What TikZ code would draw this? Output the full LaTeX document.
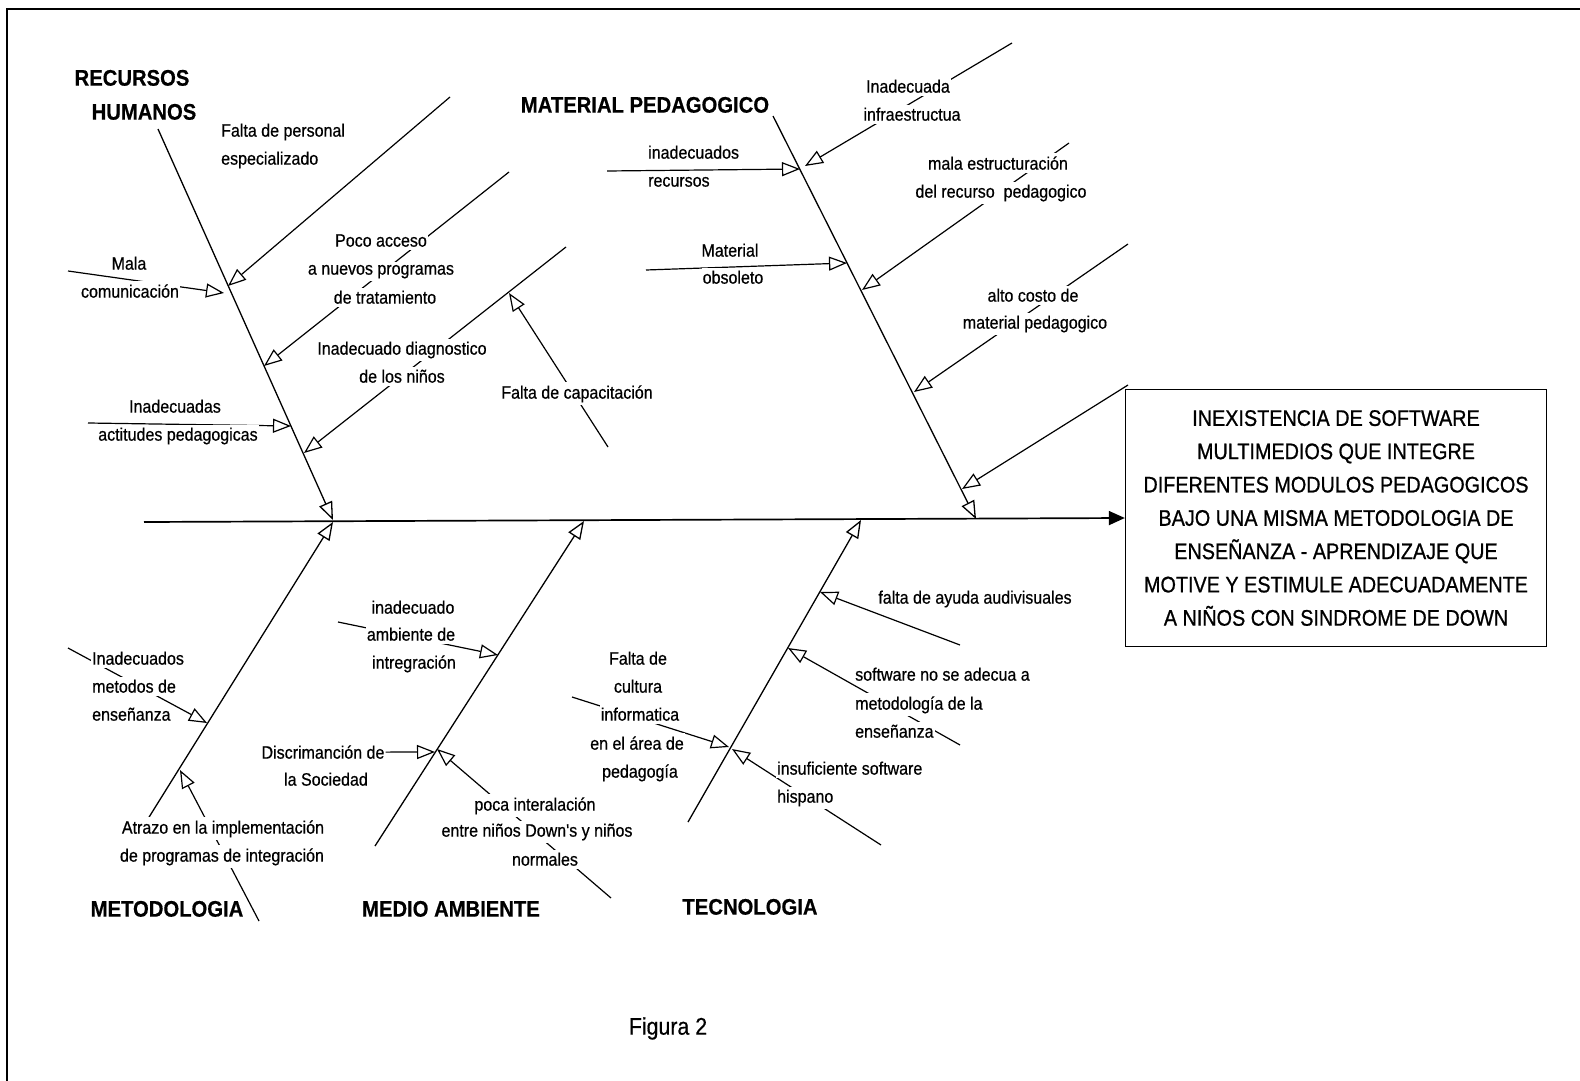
\documentclass[tikz,border=0pt]{standalone}
\usepackage{fontspec}
\setmainfont{Liberation Sans}
\newfontfamily\lblfamily{Liberation Sans}[FakeStretch=0.89,FakeBold=0.6]
\newfontfamily\headfamily{Liberation Sans}[FakeStretch=0.9,FakeBold=0.5]
\newfontfamily\effectfamily{Liberation Sans}[FakeStretch=0.88,FakeBold=0.8]
\newcommand\lblfont{\lblfamily\fontsize{18}{20}\selectfont}
\newcommand\headfont{\headfamily\bfseries\fontsize{22.5}{26}\selectfont}
\newcommand\effectfont{\effectfamily\fontsize{22.5}{33.3}\selectfont}
\usetikzlibrary{arrows.meta}

\begin{document}
\begin{tikzpicture}[x=1pt,y=-1pt,
  lbl/.style={font=\lblfont, fill=white, inner xsep=1pt, inner ysep=3pt, anchor=mid},
  lblw/.style={lbl, anchor=mid west},
  head/.style={font=\headfont, inner sep=0pt, anchor=mid},
  link/.style={line width=1.2pt, -{Triangle[open,length=18pt,width=14pt]}},
  bone/.style={line width=1.3pt, -{Triangle[open,length=18pt,width=14pt]}},
  spine/.style={line width=1.7pt, -{Triangle[length=16pt,width=14pt]}},
  frame/.style={line width=2.4pt},
  effectbox/.style={draw, line width=1.3pt, minimum width=421pt, minimum height=257pt,
                    align=center, font=\effectfont, inner sep=0pt}
]
\useasboundingbox (0,0) rectangle (1580,1081);

% page frame (top and left rules)
\draw[frame] (7,1081) -- (7,9) -- (1580,9);

% effect box
\node[effectbox] (effect) at (1336,518) {INEXISTENCIA DE SOFTWARE\\
MULTIMEDIOS QUE INTEGRE\\
DIFERENTES MODULOS PEDAGOGICOS\\
BAJO UNA MISMA METODOLOGIA DE\\
ENSEÑANZA - APRENDIZAJE QUE\\
MOTIVE Y ESTIMULE ADECUADAMENTE\\
A NIÑOS CON SINDROME DE DOWN};

% ---------- coordinates ----------
\coordinate (sp0) at (144,522);
% main bones
\coordinate (rhA) at (158,129);  \coordinate (rhB) at (333,520);
\coordinate (mpA) at (773,116);  \coordinate (mpB) at (976,519);
\coordinate (meA) at (146,822);  \coordinate (meB) at (333,522);
\coordinate (maA) at (375,846);  \coordinate (maB) at (584,521);
\coordinate (teA) at (688,822);  \coordinate (teB) at (861,520);
% recursos humanos
\coordinate (r1s) at (450,97);   \coordinate (r1t) at (228,286);
\coordinate (r2s) at (68,271);   \coordinate (r2t) at (224,293);
\coordinate (r3s) at (509,172);  \coordinate (r3t) at (264,366);
\coordinate (r4s) at (566,247);  \coordinate (r4t) at (304,453);
\coordinate (r5s) at (88,423);   \coordinate (r5t) at (291,426);
\coordinate (r6s) at (608,447);  \coordinate (r6t) at (509,293);
% material pedagogico
\coordinate (m1s) at (607,171);  \coordinate (m1t) at (800,169);
\coordinate (m2s) at (1012,43);  \coordinate (m2t) at (805,166);
\coordinate (m3s) at (646,270);  \coordinate (m3t) at (847,263);
\coordinate (m4s) at (1069,143); \coordinate (m4t) at (862,290);
\coordinate (m5s) at (1128,244); \coordinate (m5t) at (914,392);
\coordinate (m6s) at (1128,385); \coordinate (m6t) at (962,489);
% metodologia
\coordinate (t1s) at (68,648);   \coordinate (t1t) at (207,723);
\coordinate (t2s) at (259,921);  \coordinate (t2t) at (180,770);
% medio ambiente
\coordinate (a1s) at (338,622);  \coordinate (a1t) at (498,655);
\coordinate (a2t) at (435,752);
\coordinate (a3s) at (611,898);  \coordinate (a3t) at (437,749);
% tecnologia
\coordinate (e1s) at (960,645);  \coordinate (e1t) at (820,592);
\coordinate (e2s) at (960,745);  \coordinate (e2t) at (788,648);
\coordinate (e3s) at (572,697);  \coordinate (e3t) at (729,747);
\coordinate (e4s) at (881,845);  \coordinate (e4t) at (732,749);

% ---------- spine and bones ----------
\draw[spine] (sp0) -- (effect.west);
\draw[bone] (rhA) -- (rhB);
\draw[bone] (mpA) -- (mpB);
\draw[bone] (meA) -- (meB);
\draw[bone] (maA) -- (maB);
\draw[bone] (teA) -- (teB);

% ---------- cause links ----------
\foreach \c in {r1,r2,r3,r4,r5,r6,m1,m2,m3,m4,m5,m6,t1,t2,a1,a3,e1,e2,e3,e4}
  \draw[link] (\c s) -- (\c t);

% ---------- labels ----------
% recursos humanos
\node[head] (hRH1) at (132,83) {RECURSOS};
\node[head] (hRH2) at (144,117) {HUMANOS};
\node[lblw] (r1a) at (220,134) {Falta de personal};
\node[lblw] (r1b) at (220,162) {especializado};
\node[lbl] (r2a) at (129,267) {Mala};
\node[lbl] (r2b) at (130,295) {comunicación};
\node[lbl] (r3a) at (381,244) {Poco acceso};
\node[lbl] (r3b) at (381,272) {a nuevos programas};
\node[lbl] (r3c) at (385,301) {de tratamiento};
\node[lbl] (r4a) at (402,352) {Inadecuado diagnostico};
\node[lbl] (r4b) at (402,380) {de los niños};
\node[lbl] (r5a) at (175,410) {Inadecuadas};
\node[lbl] (r5b) at (178,438) {actitudes pedagogicas};
\node[lbl] (r6a) at (577,396) {Falta de capacitación};

% material pedagogico
\node[head] (hMP) at (645,110) {MATERIAL PEDAGOGICO};
\node[lblw] (m1a) at (647,156) {inadecuados};
\node[lblw] (m1b) at (647,184) {recursos};
\node[lbl] (m2a) at (908,90) {Inadecuada};
\node[lbl] (m2b) at (912,118) {infraestructua};
\node[lbl] (m3a) at (730,254) {Material};
\node[lbl] (m3b) at (733,281) {obsoleto};
\node[lbl] (m4a) at (998,167) {mala estructuración};
\node[lbl] (m4b) at (1001,195) {del recurso\ \ pedagogico};
\node[lbl] (m5a) at (1033,299) {alto costo de};
\node[lbl] (m5b) at (1035,326) {material pedagogico};

% metodologia
\node[head] (hME) at (167,914) {METODOLOGIA};
\node[lblw] (t1a) at (91,662) {Inadecuados};
\node[lblw] (t1b) at (91,690) {metodos de};
\node[lblw] (t1c) at (91,718) {enseñanza};
\node[lbl] (t2a) at (223,831) {Atrazo en la implementación};
\node[lbl] (t2b) at (222,859) {de programas de integración};

% medio ambiente
\node[head] (hMA) at (451,914) {MEDIO AMBIENTE};
\node[lbl] (a1a) at (413,611) {inadecuado};
\node[lbl] (a1b) at (411,638) {ambiente de};
\node[lbl] (a1c) at (414,666) {intregración};
\node[lbl] (a2a) at (323,756) {Discrimanción de};
\node[lbl] (a2b) at (326,783) {la Sociedad};
\draw[link] (a2a.east) -- (a2t);
\node[lbl] (a3a) at (535,808) {poca interalación};
\node[lbl] (a3b) at (537,834) {entre niños Down's y niños};
\node[lbl] (a3c) at (545,863) {normales};

% tecnologia
\node[head] (hTE) at (750,912) {TECNOLOGIA};
\node[lbl, fill=none] (e1a) at (975,601) {falta de ayuda audivisuales};
\node[lblw] (e2a) at (854,678) {software no se adecua a};
\node[lblw] (e2b) at (854,707) {metodología de la};
\node[lblw] (e2c) at (854,735) {enseñanza};
\node[lbl] (e3a) at (638,662) {Falta de};
\node[lbl] (e3b) at (638,690) {cultura};
\node[lbl] (e3c) at (640,718) {informatica};
\node[lbl] (e3d) at (637,747) {en el área de};
\node[lbl] (e3e) at (640,775) {pedagogía};
\node[lblw] (e4a) at (776,772) {insuficiente software};
\node[lblw] (e4b) at (776,800) {hispano};

% caption
\node[font=\lblfamily\fontsize{24}{28}\selectfont, anchor=mid] (cap) at (668,1032) {Figura 2};
\end{tikzpicture}
\end{document}
